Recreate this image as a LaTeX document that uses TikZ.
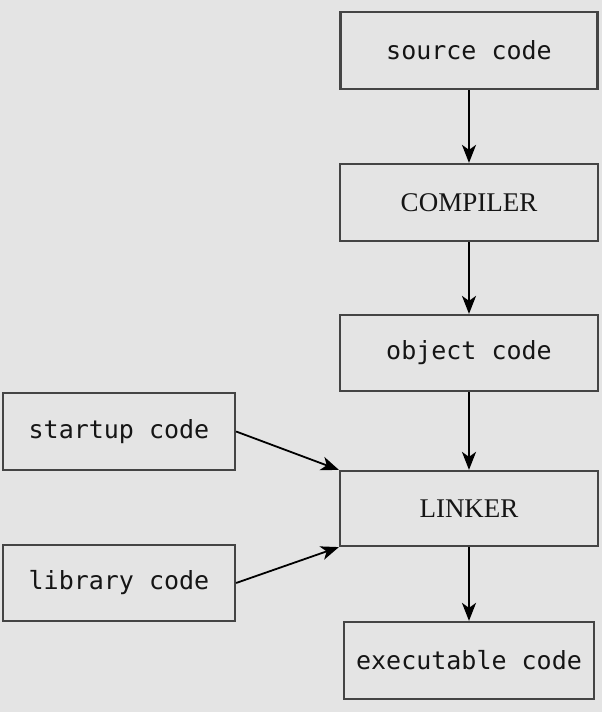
\documentclass[tikz,border=0pt]{standalone}
\usepackage{fontspec}
\setmainfont{Liberation Serif}
\setmonofont{DejaVu Sans Mono}
\usetikzlibrary{arrows.meta}
\definecolor{bgc}{HTML}{E4E4E4}
\definecolor{boxc}{HTML}{444444}
\definecolor{txtc}{HTML}{151515}
\begin{document}
\begin{tikzpicture}[x=1pt,y=1pt,
  box/.style={draw=boxc, line width=2.2pt, fill=bgc, inner sep=0pt, minimum height=77pt, text=txtc},
  mono/.style={box, font=\ttfamily\fontsize{25}{28}\selectfont},
  serif/.style={box, font=\rmfamily\fontsize{27}{30}\selectfont},
  arr/.style={line width=2.2pt, -{Stealth[length=18pt,width=14pt,inset=5pt]}}]
\fill[bgc] (0,0) rectangle (602,712);
\useasboundingbox (0,0) rectangle (602,712);
\node[mono, minimum width=257pt] (src) at (469,661.5) {source code};
\node[serif, minimum width=258pt] (comp) at (469,509.5) {COMPILER};
\node[mono, minimum width=258pt, minimum height=76pt] (obj) at (469,359) {object code};
\node[serif, minimum width=258pt, minimum height=75pt] (link) at (469,203.5) {LINKER};
\node[mono, minimum width=250pt] (exe) at (469,51.5) {executable code};
\node[mono, minimum width=232pt] (start) at (119,280.5) {startup code};
\node[mono, minimum width=232pt, minimum height=76pt] (lib) at (119,129) {library code};
\draw[arr] (src) -- (comp);
\draw[arr] (comp) -- (obj);
\draw[arr] (obj) -- (link);
\draw[arr] (link) -- (exe);
\draw[arr, line width=1.8pt] (start.east) -- (link.north west);
\draw[arr, line width=1.8pt] (lib.east) -- (link.south west);
\end{tikzpicture}
\end{document}
